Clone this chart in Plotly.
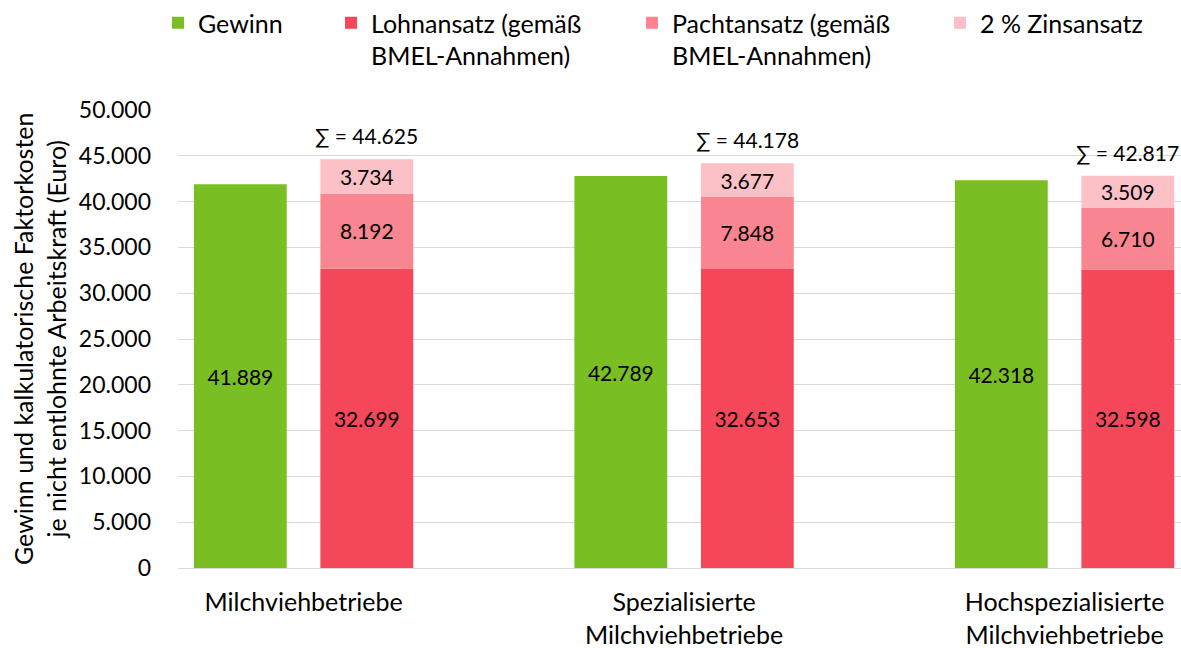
import plotly.graph_objects as go

categories = ["Milchviehbetriebe", "Spezialisierte<br>Milchviehbetriebe", "Hochspezialisierte<br>Milchviehbetriebe"]
gewinn = [41889, 42789, 42318]
lohn = [32699, 32653, 32598]
pacht = [8192, 7848, 6710]
zins = [3734, 3677, 3509]
totals = [44625, 44178, 42817]

names = ["Gewinn", "Lohnansatz (gemäß<br>BMEL-Annahmen)", "Pachtansatz (gemäß<br>BMEL-Annahmen)", "2 % Zinsansatz"]
colors = ["#79BE22", "#F5475A", "#F8858F", "#FBC1C7"]
legend_ids = ["legend", "legend2", "legend3", "legend4"]
legend_x = [158, 331, 632, 940]

FONT = "Lato"
fs_data = 21
fs = 25
fs_ytick = 23
W, H = 1181, 648
ML, MR, MT, MB = 178, 0, 110, 80

fig = go.Figure()
fig.add_trace(go.Bar(x=categories, y=gewinn, name=names[0], marker_color=colors[0],
                     offsetgroup="a", texttemplate="%{y:,}", textposition="inside",
                     insidetextanchor="middle", textfont=dict(color="black", size=fs_data, family=FONT),
                     marker_line_width=0, legend=legend_ids[0]))
base = [0, 0, 0]
for i, (vals, nm, col) in enumerate([(lohn, names[1], colors[1]), (pacht, names[2], colors[2]), (zins, names[3], colors[3])]):
    fig.add_trace(go.Bar(x=categories, y=vals, base=base, name=nm, marker_color=col,
                         offsetgroup="b", texttemplate="%{y:,}", textposition="inside",
                         insidetextanchor="middle", textfont=dict(color="black", size=fs_data, family=FONT),
                         marker_line_width=0, legend=legend_ids[i + 1]))
    base = [b + v for b, v in zip(base, vals)]

for c, t in zip(categories, totals):
    fig.add_annotation(x=c, y=t, xref="x", yref="y", text="∑ = " + f"{t:,}".replace(",", "."),
                       showarrow=False, xshift=63, yshift=9, yanchor="bottom",
                       font=dict(size=fs_data, family=FONT, color="black"))

fig.add_annotation(x=(39 - ML) / (W - ML - MR), y=0.5, xref="paper", yref="paper",
                   text="Gewinn und kalkulatorische Faktorkosten<br>je nicht entlohnte Arbeitskraft (Euro)",
                   textangle=-90, showarrow=False, xanchor="center", yanchor="middle",
                   font=dict(size=fs, family=FONT, color="black"))

leg_common = dict(orientation="h", yref="container", y=1.0, yanchor="top", xref="container",
                  xanchor="left", itemwidth=30, font=dict(size=fs, family=FONT), valign="top",
                  bgcolor="rgba(0,0,0,0)")
layout_legends = {}
for lid, lx in zip(legend_ids, legend_x):
    layout_legends[lid] = dict(x=lx / W, **leg_common)

fig.update_layout(
    width=W, height=H,
    margin=dict(l=ML, r=MR, t=MT, b=MB, autoexpand=False),
    barmode="group", bargap=0.335, bargroupgap=0.266,
    separators=",.",
    plot_bgcolor="white", paper_bgcolor="white",
    font=dict(family=FONT, size=fs, color="black"),
    uniformtext=dict(mode="show", minsize=fs_data),
    showlegend=True,
    **layout_legends,
)
fig.update_xaxes(type="category", range=[-0.33, 2.306], showgrid=False, showline=True,
                 linecolor="#D9D9D9", linewidth=1, ticks="", ticklabelstandoff=12,
                 tickfont=dict(size=fs, family=FONT))
fig.update_yaxes(range=[0, 50000], dtick=5000, tickformat=",d", showgrid=True,
                 gridcolor="#D9D9D9", gridwidth=1, zeroline=False, ticks="",
                 ticklabelstandoff=26, tickfont=dict(size=fs_ytick, family=FONT))

fig.write_html("out.html", config={"displayModeBar": False},
               post_script="document.body.style.margin='0';")
